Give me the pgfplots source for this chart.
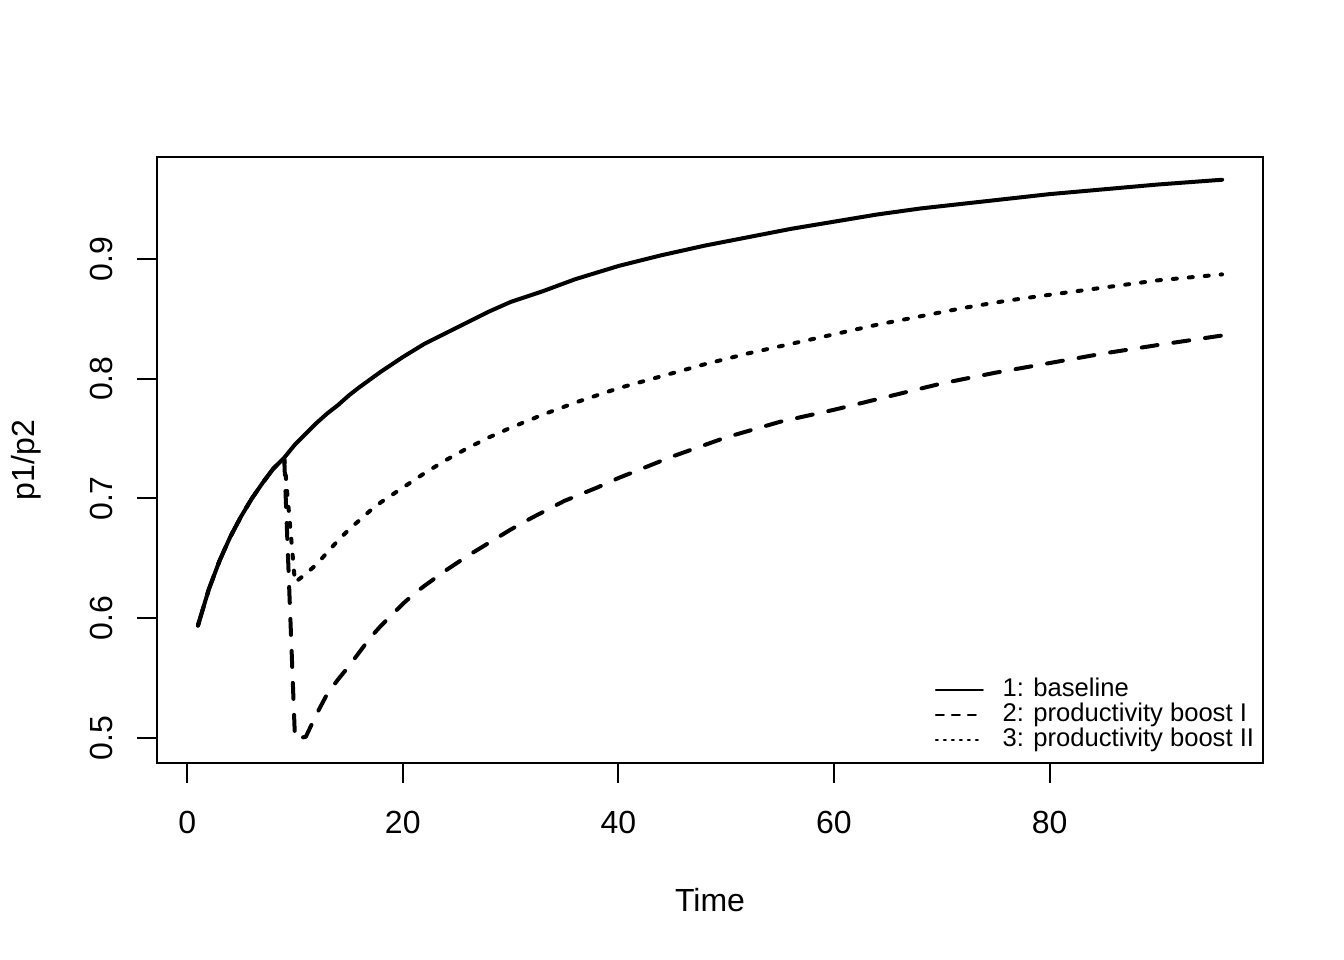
\documentclass[border=0pt]{standalone}
\usepackage{fontspec}
\setmainfont{Liberation Sans}
\usepackage{pgfplots}
\pgfplotsset{compat=1.18}
\pgfplotstableread{
x y
1 0.594
2 0.624
3 0.648
4 0.668
5 0.685
6 0.700
7 0.713
8 0.725
9 0.734
10 0.745
11 0.754
12 0.763
13 0.771
14 0.778
15 0.786
16 0.793
18 0.806
20 0.818
22 0.829
24 0.838
26 0.847
28 0.856
30 0.864
33 0.873
36 0.883
40 0.894
44 0.903
48 0.911
52 0.918
56 0.925
60 0.931
64 0.937
68 0.942
72 0.946
76 0.950
80 0.954
85 0.958
90 0.962
96 0.966
}\baseline
\pgfplotstableread{
x y
1 0.594
2 0.624
3 0.648
4 0.668
5 0.685
6 0.700
7 0.713
8 0.725
9 0.734
10 0.4995
11 0.501
12 0.520
13 0.537
14 0.549
15 0.560
16 0.572
17 0.584
18 0.594
19 0.603
20 0.612
21 0.620
22 0.627
24 0.640
26 0.652
28 0.663
30 0.674
32 0.684
35 0.698
38 0.709
40 0.717
45 0.735
50 0.751
55 0.764
60 0.774
65 0.785
70 0.796
75 0.805
80 0.813
85 0.821
90 0.828
96 0.836
}\boostI
\pgfplotstableread{
x y
1 0.594
2 0.624
3 0.648
4 0.668
5 0.685
6 0.700
7 0.713
8 0.725
9 0.734
10 0.630
11 0.637
12 0.645
13 0.655
14 0.665
15 0.674
16 0.682
17 0.690
18 0.697
19 0.703
20 0.709
22 0.721
24 0.732
26 0.742
28 0.751
30 0.759
33 0.770
36 0.780
40 0.792
44 0.802
48 0.812
52 0.821
56 0.829
60 0.837
64 0.845
68 0.852
72 0.859
76 0.865
80 0.870
85 0.876
90 0.882
96 0.887
}\boostII
\begin{document}
\begin{tikzpicture}
\useasboundingbox (0,0) rectangle (504bp,360bp);
\begin{axis}[
  at={(58.875bp,73.875bp)}, anchor=south west,
  scale only axis, width=414.75bp, height=227.25bp,
  xmin=-2.8, xmax=99.8, ymin=0.4792, ymax=0.9850,
  axis line style={line width=0.75bp},
  every tick/.style={black, line width=0.75bp},
  tick align=outside, major tick length=7.5bp,
  tick pos=left,
  xtick={0,20,40,60,80}, xticklabels={0,20,40,60,80},
  ytick={0.5,0.6,0.7,0.8,0.9}, yticklabels={0.5,0.6,0.7,0.8,0.9},
  tick label style={font=\fontsize{12bp}{14bp}\selectfont, inner sep=0pt},
  xticklabel style={anchor=north},
  yticklabel style={rotate=90, anchor=base},
  xticklabel shift=10.5bp,
  yticklabel shift=9.375bp,
  label style={font=\fontsize{12bp}{14bp}\selectfont, inner sep=0pt},
  xlabel={Time},
  xlabel style={at={(axis description cs:0.5,-0.2453)}, anchor=base},
  ylabel={p1/p2},
  ylabel style={at={(axis description cs:-0.1103,0.5)}, rotate=0, anchor=base},
  legend style={at={(axis description cs:0.7034,0.1411)}, anchor=north west,
    draw=none, fill=none, inner sep=0pt, outer sep=0pt, row sep=0pt,
    font=\fontsize{9.6bp}{11bp}\selectfont,
    nodes={inner sep=0pt, text height=7bp, text depth=2.375bp}},
  legend cell align=left,
  legend image code/.code={\draw[#1] (0bp,0bp) -- (17.6bp,0bp); \path[draw=none,fill=none] (0bp,0bp) -- (25bp,0bp);},
  every axis plot/.append style={black, line width=1.5bp, line cap=round, line join=round},
]
\addplot[legend image post style={line width=0.75bp}] table[x=x,y=y] {\baseline};
\addlegendentry{1: baseline}
\addplot[dash pattern=on 6bp off 6bp, legend image post style={line width=0.75bp, dash pattern=on 3bp off 3bp}] table[x=x,y=y] {\boostI};
\addlegendentry{2: productivity boost I}
\addplot[dash pattern=on 1.5bp off 4.5bp, legend image post style={line width=0.75bp, dash pattern=on 0.75bp off 2.25bp}] table[x=x,y=y] {\boostII};
\addlegendentry{3: productivity boost II}
\end{axis}
\end{tikzpicture}
\end{document}
